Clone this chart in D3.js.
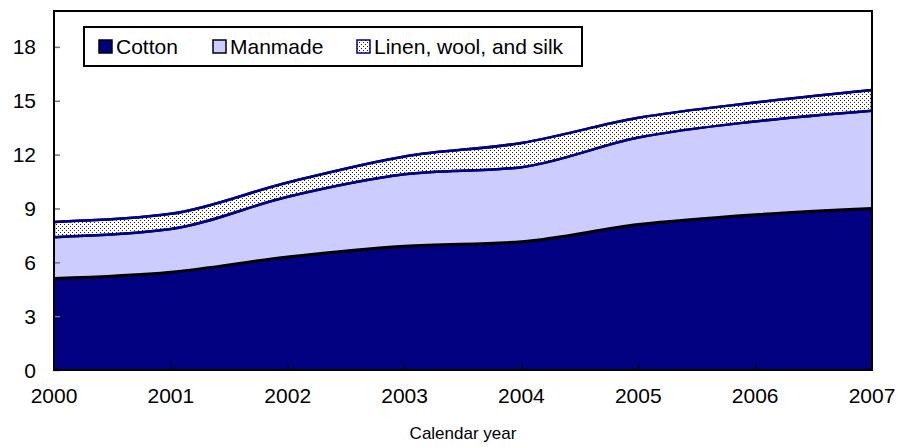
<!DOCTYPE html>
<html>
<head>
<meta charset="utf-8">
<script src="https://cdn.jsdelivr.net/npm/d3@7"></script>
<style>
  body { margin: 0; background: #fff; }
  text { font-family: Arial, "Liberation Sans", sans-serif; fill: #000; }
</style>
</head>
<body>
<div id="chart"></div>
<script>
const years = [2000, 2001, 2002, 2003, 2004, 2005, 2006, 2007];
const cotton = [5.1, 5.45, 6.3, 6.9, 7.15, 8.1, 8.65, 9.0];
const manmade = [2.3, 2.4, 3.35, 4.0, 4.15, 4.85, 5.2, 5.45];
const linen = [0.85, 0.85, 0.8, 1.0, 1.35, 1.1, 1.05, 1.15];
const yTicks = [0, 3, 6, 9, 12, 15, 18];
const seriesNames = ["Cotton", "Manmade", "Linen, wool, and silk"];

const width = 900, height = 447;
const margin = {top: 11, right: 28, bottom: 77, left: 54};

const svg = d3.select("#chart").append("svg")
    .attr("width", width)
    .attr("height", height);

const defs = svg.append("defs");
const pat = defs.append("pattern")
    .attr("id", "dots")
    .attr("patternUnits", "userSpaceOnUse")
    .attr("width", 4).attr("height", 4);
pat.append("rect").attr("width", 4).attr("height", 4).attr("fill", "#fff");
pat.append("rect").attr("x", 0).attr("y", 0).attr("width", 1).attr("height", 1).attr("fill", "#222");
pat.append("rect").attr("x", 2).attr("y", 2).attr("width", 1).attr("height", 1).attr("fill", "#222");

defs.append("clipPath").attr("id", "plotclip")
  .append("rect")
    .attr("x", margin.left).attr("y", margin.top)
    .attr("width", width - margin.left - margin.right)
    .attr("height", height - margin.top - margin.bottom);

const x = d3.scaleLinear()
    .domain([2000, 2007])
    .range([margin.left, width - margin.right]);

const y = d3.scaleLinear()
    .domain([0, 20])
    .range([height - margin.bottom, margin.top]);

const table = years.map((yr, i) => ({year: yr, cotton: cotton[i], manmade: manmade[i], linen: linen[i]}));
const stack = d3.stack().keys(["cotton", "manmade", "linen"]);
const layers = stack(table);

const fills = ["#000080", "#ccccff", "url(#dots)"];
const edges = ["#000", "#000080", "#000080"];

const area = d3.area()
    .curve(d3.curveMonotoneX)
    .x(d => x(d.data.year))
    .y0(d => y(d[0]))
    .y1(d => y(d[1]));

const topLine = d3.line()
    .curve(d3.curveMonotoneX)
    .x(d => x(d.data.year))
    .y(d => y(d[1]));

const plot = svg.append("g").attr("clip-path", "url(#plotclip)");

plot.selectAll("path.area")
    .data(layers)
    .enter().append("path")
    .attr("class", "area")
    .attr("d", area)
    .attr("fill", (d, i) => fills[i])
    .attr("stroke", (d, i) => i == 2 ? "#000080" : "none")
    .attr("stroke-width", 2.5);

plot.selectAll("path.edge")
    .data(layers)
    .enter().append("path")
    .attr("class", "edge")
    .attr("d", topLine)
    .attr("fill", "none")
    .attr("stroke", (d, i) => edges[i])
    .attr("stroke-width", (d, i) => i == 0 ? 3 : 2.5);

// y axis ticks point into the plot
svg.append("g")
    .attr("transform", "translate(" + margin.left + ",0)")
    .call(d3.axisRight(y).tickValues(yTicks).tickSize(6).tickFormat(""))
    .call(g => g.select(".domain").remove())
    .selectAll("line").attr("stroke", "#777").attr("stroke-width", 1.5);

svg.append("g")
    .selectAll("text")
    .data(yTicks)
    .enter().append("text")
    .attr("x", margin.left - 18)
    .attr("y", d => y(d))
    .attr("dy", "0.36em")
    .attr("text-anchor", "end")
    .style("font-size", "21px")
    .text(d => d);

// x ticks upward from the bottom
svg.append("g")
    .attr("transform", "translate(0," + (height - margin.bottom) + ")")
    .call(d3.axisTop(x).tickValues(years.slice(1, -1)).tickSize(6).tickFormat(""))
    .call(g => g.select(".domain").remove())
    .selectAll("line").attr("stroke", "#000").attr("stroke-width", 1);

svg.append("g")
    .selectAll("text")
    .data(years)
    .enter().append("text")
    .attr("x", d => x(d))
    .attr("y", height - margin.bottom + 33)
    .attr("text-anchor", "middle")
    .style("font-size", "21px")
    .text(d => d);

svg.append("text")
    .attr("x", (x(2000) + x(2007)) / 2)
    .attr("y", height - 8)
    .attr("text-anchor", "middle")
    .style("font-size", "17px")
    .text("Calendar year");

// frame
svg.append("rect")
    .attr("x", margin.left).attr("y", margin.top)
    .attr("width", width - margin.left - margin.right)
    .attr("height", height - margin.top - margin.bottom)
    .attr("fill", "none")
    .attr("stroke", "#000")
    .attr("stroke-width", 2);

// legend
const legend = svg.append("g");
legend.append("rect")
    .attr("x", 84).attr("y", 27)
    .attr("width", 498).attr("height", 39)
    .attr("fill", "#fff")
    .attr("stroke", "#000")
    .attr("stroke-width", 2);

const legendX = [99, 213, 357];
const swatchEdge = ["#000", "#000", "#000080"];
const item = legend.selectAll("g.item")
    .data(seriesNames)
    .enter().append("g")
    .attr("class", "item")
    .attr("transform", (d, i) => "translate(" + legendX[i] + ",40)");

item.append("rect")
    .attr("width", 13).attr("height", 13)
    .attr("fill", (d, i) => fills[i])
    .attr("stroke", (d, i) => swatchEdge[i])
    .attr("stroke-width", 1.5);

item.append("text")
    .attr("x", 17)
    .attr("y", 6.5)
    .attr("dy", "0.36em")
    .style("font-size", "21px")
    .text(d => d);
</script>
</body>
</html>
